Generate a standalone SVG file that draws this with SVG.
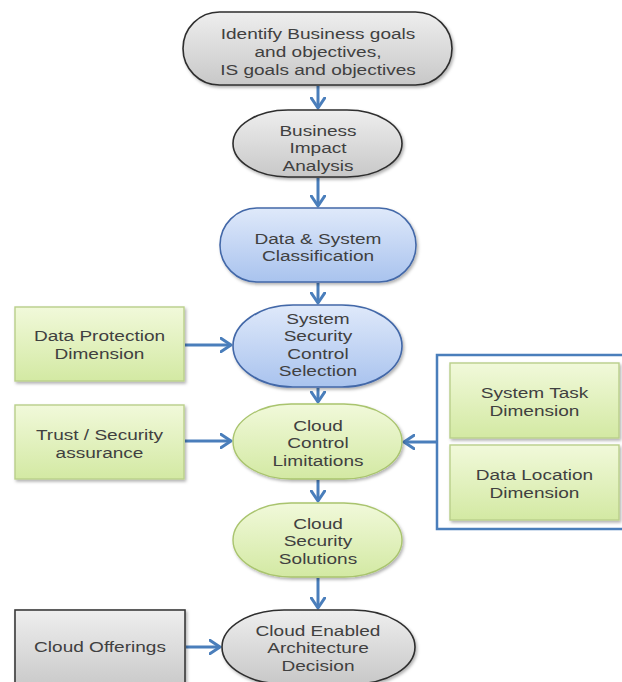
<svg xmlns="http://www.w3.org/2000/svg" width="622" height="682" viewBox="0 0 622 682">
<style>
text{font-family:"Liberation Sans",Arial,sans-serif;font-size:15px;fill:#404040;text-anchor:middle}
.gray{fill:url(#gGray);stroke:#2e2e2e;stroke-width:1.6}
.blue{fill:url(#gBlue);stroke:#4368a8;stroke-width:1.6}
.green{fill:url(#gGreen);stroke:#a9c46e;stroke-width:1.4}
.greenbox{fill:url(#gGreen);stroke:#b9cf8a;stroke-width:1.4}
.graybox{fill:url(#gGray);stroke:#3a3a3a;stroke-width:1.6}
.conn{stroke:#4a7ebb;stroke-width:3;fill:none;marker-end:url(#arr)}
.frame{stroke:#4a7ebb;stroke-width:2.5;fill:none}
</style>
<defs>
<linearGradient id="gGray" x1="0" y1="0" x2="0" y2="1"><stop offset="0" stop-color="#eeeeee"/><stop offset="1" stop-color="#c8c8c8"/></linearGradient>
<linearGradient id="gBlue" x1="0" y1="0" x2="0" y2="1"><stop offset="0" stop-color="#dfe9fa"/><stop offset="1" stop-color="#a9c3ee"/></linearGradient>
<linearGradient id="gGreen" x1="0" y1="0" x2="0" y2="1"><stop offset="0" stop-color="#f1f9da"/><stop offset="1" stop-color="#d3e9a3"/></linearGradient>
<filter id="sh" x="-10%" y="-10%" width="125%" height="130%"><feDropShadow dx="1.5" dy="2" stdDeviation="1.5" flood-color="#000" flood-opacity="0.3"/></filter>
<marker id="arr" markerUnits="userSpaceOnUse" markerWidth="16" markerHeight="16" refX="10" refY="7" orient="auto" viewBox="0 0 14 14"><path d="M1,1 L10,7 L1,13" fill="none" stroke="#4a7ebb" stroke-width="2.6" stroke-linecap="round" stroke-linejoin="round"/></marker>
</defs>
<rect width="622" height="682" fill="#ffffff"/>
<g id="connectors">
<line class="conn" x1="318" y1="86" x2="318" y2="108"/>
<line class="conn" x1="318" y1="178" x2="318" y2="206"/>
<line class="conn" x1="318" y1="283" x2="318" y2="303"/>
<line class="conn" x1="318" y1="388" x2="318" y2="402"/>
<line class="conn" x1="318" y1="480" x2="318" y2="501"/>
<line class="conn" x1="318" y1="578" x2="318" y2="608"/>
<line class="conn" x1="185" y1="345" x2="231" y2="345"/>
<line class="conn" x1="185" y1="441" x2="231" y2="441"/>
<line class="conn" x1="437" y1="442" x2="404" y2="442"/>
<line class="conn" x1="186" y1="647" x2="220" y2="647"/>
</g>
<g id="n1"><rect class="gray" filter="url(#sh)" x="183" y="12" width="269" height="73" rx="36.5"/>
<text transform="translate(318 38.5) scale(1.27 1)">Identify Business goals</text>
<text transform="translate(318 56.5) scale(1.27 1)">and objectives,</text>
<text transform="translate(318 74.5) scale(1.27 1)">IS goals and objectives</text></g>
<g id="n2"><rect class="gray" filter="url(#sh)" x="233" y="110" width="169" height="67" rx="55" ry="33.5"/>
<text transform="translate(318 135.5) scale(1.27 1)">Business</text>
<text transform="translate(318 153) scale(1.27 1)">Impact</text>
<text transform="translate(318 170.5) scale(1.27 1)">Analysis</text></g>
<g id="n3"><rect class="blue" filter="url(#sh)" x="220" y="208" width="196" height="74" rx="37"/>
<text transform="translate(318 243.5) scale(1.27 1)">Data &amp; System</text>
<text transform="translate(318 261) scale(1.27 1)">Classification</text></g>
<g id="n4"><rect class="blue" filter="url(#sh)" x="233" y="305" width="169" height="82" rx="60" ry="41"/>
<text transform="translate(318 323.5) scale(1.27 1)">System</text>
<text transform="translate(318 341) scale(1.27 1)">Security</text>
<text transform="translate(318 358.5) scale(1.27 1)">Control</text>
<text transform="translate(318 376) scale(1.27 1)">Selection</text></g>
<g id="n5"><rect class="green" filter="url(#sh)" x="233" y="404" width="169" height="75" rx="58" ry="37.5"/>
<text transform="translate(318 430.5) scale(1.27 1)">Cloud</text>
<text transform="translate(318 448) scale(1.27 1)">Control</text>
<text transform="translate(318 465.5) scale(1.27 1)">Limitations</text></g>
<g id="n6"><rect class="green" filter="url(#sh)" x="233" y="503" width="169" height="74" rx="58" ry="37"/>
<text transform="translate(318 528.5) scale(1.27 1)">Cloud</text>
<text transform="translate(318 546) scale(1.27 1)">Security</text>
<text transform="translate(318 563.5) scale(1.27 1)">Solutions</text></g>
<g id="n7"><rect class="gray" filter="url(#sh)" x="222" y="610" width="193" height="74" rx="62" ry="37"/>
<text transform="translate(318 635.5) scale(1.27 1)">Cloud Enabled</text>
<text transform="translate(318 653) scale(1.27 1)">Architecture</text>
<text transform="translate(318 670.5) scale(1.27 1)">Decision</text></g>
<g id="dataProtection"><rect class="greenbox" filter="url(#sh)" x="15" y="307" width="169" height="74"/>
<text transform="translate(99.5 341) scale(1.27 1)">Data Protection</text>
<text transform="translate(99.5 358.5) scale(1.27 1)">Dimension</text></g>
<g id="trust"><rect class="greenbox" filter="url(#sh)" x="15" y="405" width="169" height="74"/>
<text transform="translate(99.5 440) scale(1.27 1)">Trust / Security</text>
<text transform="translate(99.5 457.5) scale(1.27 1)">assurance</text></g>
<g id="cloudOfferings"><rect class="graybox" filter="url(#sh)" x="15" y="610" width="170" height="80"/>
<text transform="translate(100 652) scale(1.27 1)">Cloud Offerings</text></g>
<g id="rightGroup">
<path class="frame" d="M630,355 L437,355 L437,529 L630,529"/>
<g id="systemTask"><rect class="greenbox" filter="url(#sh)" x="450" y="363" width="169" height="75"/>
<text transform="translate(534.5 398) scale(1.27 1)">System Task</text>
<text transform="translate(534.5 415.5) scale(1.27 1)">Dimension</text></g>
<g id="dataLocation"><rect class="greenbox" filter="url(#sh)" x="450" y="445" width="169" height="75"/>
<text transform="translate(534.5 480) scale(1.27 1)">Data Location</text>
<text transform="translate(534.5 497.5) scale(1.27 1)">Dimension</text></g>
</g>
</svg>
